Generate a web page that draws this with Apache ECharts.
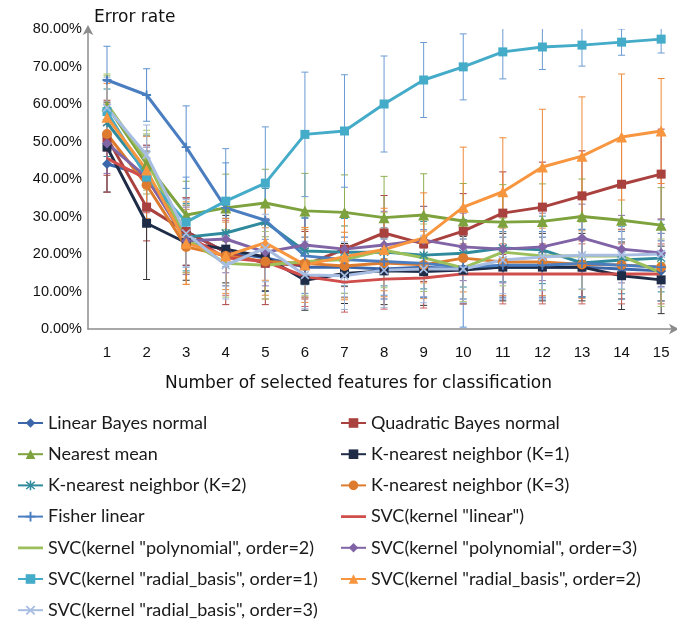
<!DOCTYPE html>
<html><head><meta charset="utf-8">
<script src="https://cdn.jsdelivr.net/npm/echarts@6/dist/echarts.min.js"></script>
<style>html,body{margin:0;padding:0;background:#fff}#c{width:677px;height:623px}</style>
</head><body><div id="c"></div>
<script>
const features = [1,2,3,4,5,6,7,8,9,10,11,12,13,14,15];
const yTicks = [0,10,20,30,40,50,60,70,80];
const seriesNames = [
  'Linear Bayes normal','Quadratic Bayes normal','Nearest mean','K-nearest neighbor (K=1)',
  'K-nearest neighbor (K=2)','K-nearest neighbor (K=3)','Fisher linear','SVC(kernel "linear")',
  'SVC(kernel "polynomial", order=2)','SVC(kernel "polynomial", order=3)',
  'SVC(kernel "radial_basis", order=1)','SVC(kernel "radial_basis", order=2)',
  'SVC(kernel "radial_basis", order=3)'
];
// mean error rate (%)
const linearBayes = [44,41,26,20.5,19,16.5,16.5,16,16.5,16,16.5,16.5,16.5,16,15.5];
const quadBayes   = [51,32.5,26,20.5,17.5,17,21.3,25.6,22.7,26.1,30.9,32.5,35.5,38.6,41.3];
const nearestMean = [59.5,44,30.4,32.3,33.6,31.5,31.1,29.7,30.4,28.8,28.5,28.7,30,29,27.7];
const knn1        = [48.5,28.2,23,21.3,19.2,13,14.8,15.5,15.3,15.7,16.5,16.5,16.5,14.2,13.1];
const knn2        = [55,41.5,24.5,25.6,28.5,20.8,20.5,20.5,19.7,20.2,21.6,21.1,17.6,18.4,18.9];
const knn3        = [52,38.4,21.9,19.5,18,17.5,16.8,17.6,17.1,18.9,17.9,17.9,17.2,17.1,16.5];
const fisher      = [66.4,62.4,48.5,32.3,29,19.5,18.5,18,17.5,16.5,17,17,17.5,17,16.5];
const svcLinear   = [45.5,40,25,19,18,14,12.5,13.3,13.6,14.7,14.7,14.7,14.7,14.7,14.7];
const svcPoly2    = [60,45,24,17.5,17,18,18.5,21,19,16.3,20.5,19.5,19.5,19.5,15];
const svcPoly3    = [49.5,40.5,23.5,24,20.5,22.4,21.3,22.4,23.7,21.9,21.3,21.9,24.3,21.3,20.3];
const svcRbf1     = [58,40.5,28.5,34.1,38.9,51.9,52.8,60,66.4,69.9,73.9,75.2,75.7,76.5,77.3];
const svcRbf2     = [56.5,42.4,22.9,19.5,23,17.1,19.3,21.2,24.3,32.5,36.6,43.2,46.1,51.2,52.8];
const svcRbf3     = [59,46.4,25.5,17,21.6,14.4,14.2,15.7,16,16,18.4,19.2,19.7,19.7,20];
// error bar half-widths (%)
const errLinearBayes = [7.5,8,9,9,9,8,8,8,8,8,8,8,8,8,8];
const errQuadBayes   = [10,9,9,14,11,9,10,10,10,10,11,12,12,12,12];
const errNearestMean = [8,8,9,9,9,10,10,11,11,10,10,10,10,10,10];
const errKnn1        = [12,15,10,9,9,8,8,9,9,9,9,9,9,9,9];
const errKnn2        = [9,10,9,9,9,9,9,9,9,9,9,9,9,9,9];
const errKnn3        = [8,9,10,9,9,9,9,9,9,9,9,9,9,9,9];
const errFisher      = [9,7,11,12,10,10,9,9,9,16,9,9,9,9,9];
const errSvcLinear   = [9,9,10,10,10,8,8,8,8,8,8,8,8,8,8];
const errSvcPoly2    = [8,8,9,9,9,9,9,10,9,9,9,9,9,9,9];
const errSvcPoly3    = [8,8,9,9,9,9,9,9,9,9,9,9,9,9,9];
const errSvcRbf1     = [8,7,12,14,15,16.6,15,12.8,10,8.8,7.2,6,5.6,3.5,3.7];
const errSvcRbf2     = [9,9,11,10,10,10,11,11,12,16,14.4,15.4,15.8,16.8,14];
const errSvcRbf3     = [8,8,9,9,9,9,9,10,9,9,9,9,9,9,9];

const means = [linearBayes,quadBayes,nearestMean,knn1,knn2,knn3,fisher,svcLinear,svcPoly2,svcPoly3,svcRbf1,svcRbf2,svcRbf3];
const errs = [errLinearBayes,errQuadBayes,errNearestMean,errKnn1,errKnn2,errKnn3,errFisher,errSvcLinear,errSvcPoly2,errSvcPoly3,errSvcRbf1,errSvcRbf2,errSvcRbf3];

const PLUS = 'path://M4,0h2v10h-2z M0,4h10v2h-10z';
const AST = 'path://M4.3,0h1.4v10h-1.4z M0.6,1.6L1.6,0.6L9.4,8.4L8.4,9.4z M8.4,0.6L9.4,1.6L1.6,9.4L0.6,8.4z';
const XS = 'path://M0.6,1.8L1.8,0.6L9.4,8.2L8.2,9.4z M8.2,0.6L9.4,1.8L1.8,9.4L0.6,8.2z';
const LINEICON = 'path://M0,0L0.01,0L0.01,0.01Z M0,4.6L25,4.6L25,7.4L0,7.4Z M24.99,12L25,12L25,11.99Z';
const styles = [
  {c:'#3b67aa', s:'diamond'},
  {c:'#a9413f', s:'rect'},
  {c:'#7ea23e', s:'triangle'},
  {c:'#1f2c48', s:'rect'},
  {c:'#2e8a9c', s:AST},
  {c:'#dd7c2e', s:'circle'},
  {c:'#4a7ec0', s:PLUS},
  {c:'#cf4d4b', s:'none'},
  {c:'#9bbf5a', s:'none'},
  {c:'#8064a6', s:'diamond'},
  {c:'#44abc8', s:'rect'},
  {c:'#f7963f', s:'triangle'},
  {c:'#a8bde2', s:XS}
];
const errColors = ['#3b67aa','#a9413f','#8fb04e','#333333','#2e8a9c','#e0893f','#5a8fd0','#c9605e','#a7c56e','#8a70ac','#6a9bd3','#f08a3a','#9fb6de'];

const series = [];
means.forEach((m,k)=>{
  series.push({
    type:'custom', name: seriesNames[k]+' error', clip:true, z:1, silent:true,
    data: features.map((x,i)=>[x, m[i], errs[k][i]]),
    renderItem:(params, api)=>{
      const x = api.value(0), y = api.value(1), e = api.value(2);
      const top = api.coord([x, y+e]), bot = api.coord([x, y-e]);
      const w = 3.5;
      const st = {stroke: errColors[k], lineWidth: 1};
      return {type:'group', children:[
        {type:'line', shape:{x1:top[0],y1:top[1],x2:bot[0],y2:bot[1]}, style:st},
        {type:'line', shape:{x1:top[0]-w,y1:top[1],x2:top[0]+w,y2:top[1]}, style:st},
        {type:'line', shape:{x1:bot[0]-w,y1:bot[1],x2:bot[0]+w,y2:bot[1]}, style:st}
      ]};
    }
  });
});
means.forEach((m,k)=>{
  const st = styles[k];
  series.push({
    type:'line', name: seriesNames[k], z: 3,
    data: features.map((x,i)=>[x, m[i]]),
    symbol: st.s, symbolSize: st.s==='triangle'?11:(st.s==='circle'?10:(st.s==='diamond'?10:9)),
    showSymbol: st.s!=='none',
    lineStyle:{color: st.c, width: 3},
    itemStyle:{color: st.c},
    emphasis:{disabled:true}
  });
});

const legendText = {fontSize:18, color:'#1a1a1a', fontFamily:'Lato'};
const legendItem = (n)=>{ const i = seriesNames.indexOf(n); return styles[i].s==='none' ? {name:n, icon:LINEICON, itemStyle:{color:styles[i].c}} : {name:n}; };
const leftNames = seriesNames.filter((n,i)=>i%2===0).map(legendItem);
const rightNames = seriesNames.filter((n,i)=>i%2===1).map(legendItem);

const chart = echarts.init(document.getElementById('c'), null, {renderer:'canvas'});
chart.setOption({
  animation:false,
  backgroundColor:'#fff',
  title:{text:'Error rate', left:94, top:9, padding:0, textStyle:{fontSize:17, fontWeight:'normal', color:'#111', fontFamily:'DejaVu Sans'}},
  grid:{left:88, right:2, top:29, bottom:294, containLabel:false},
  xAxis:{
    type:'value', min:0.52, max:15.35,
    axisLine:{show:true, lineStyle:{color:'#8c8c8c', width:1.5}, symbol:['none','arrow'], symbolSize:[8,10], symbolOffset:[0,4]},
    axisTick:{show:false},
    splitLine:{show:false},
    axisLabel:{customValues:features, fontSize:15, color:'#111', margin:16, fontFamily:'Liberation Sans'}
  },
  yAxis:{
    type:'value', min:0, max:80, interval:10,
    axisLine:{show:true, lineStyle:{color:'#8c8c8c', width:1.5}, symbol:['none','arrow'], symbolSize:[8,10], symbolOffset:[0,4]},
    axisTick:{show:false},
    splitLine:{show:false},
    axisLabel:{customValues:yTicks, fontSize:14.5, color:'#111', margin:6, fontFamily:'Liberation Sans', formatter:v=>v.toFixed(2)+'%'}
  },
  graphic:[{type:'text', left:165, top:375, style:{text:'Number of selected features for classification', fontSize:17, fill:'#111', fontFamily:'DejaVu Sans'}}],
  legend:[
    {data:leftNames, orient:'vertical', left:17, top:414, padding:0, height:215, itemWidth:25, itemHeight:12, itemGap:13.2, textStyle:legendText, selectedMode:false},
    {data:rightNames, orient:'vertical', left:340, top:414, padding:0, height:215, itemWidth:25, itemHeight:12, itemGap:13.2, textStyle:legendText, selectedMode:false}
  ],
  series: series
});
</script></body></html>
